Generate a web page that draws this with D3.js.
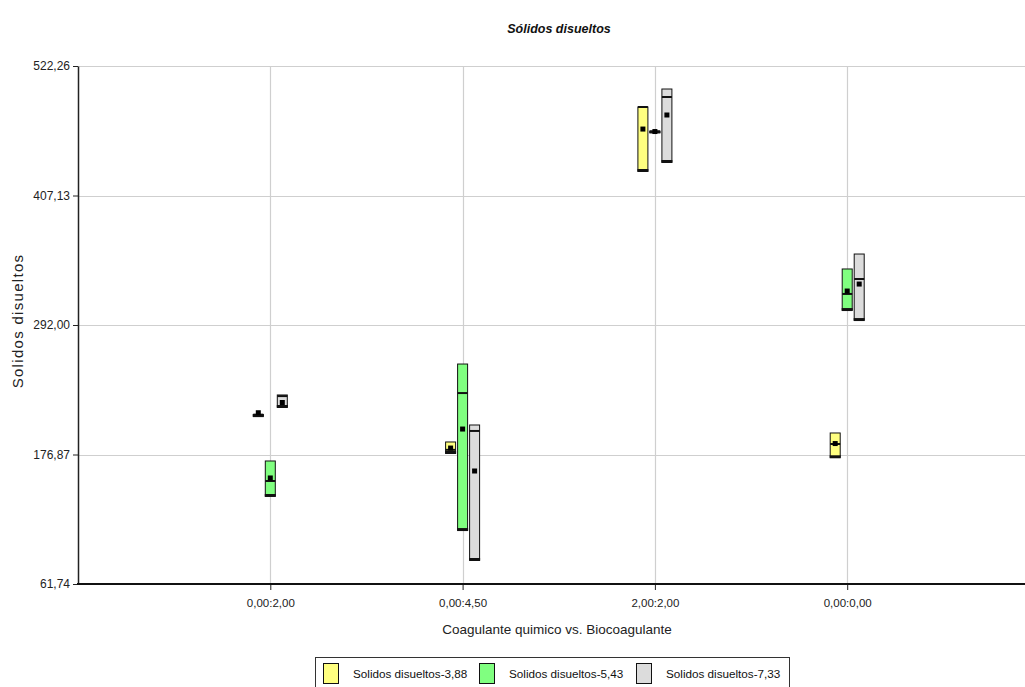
<!DOCTYPE html>
<html>
<head>
<meta charset="utf-8">
<script src="https://cdn.jsdelivr.net/npm/d3@7/dist/d3.min.js"></script>
<style>
  html, body { margin: 0; padding: 0; background: #fff; }
  svg { display: block; font-family: "Liberation Sans", Arial, sans-serif; }
</style>
</head>
<body>
<svg id="chart" width="1025" height="687"></svg>
<script>
// Treatment combinations (chemical coagulant : bio-coagulant)
const categories = ["0,00:2,00", "0,00:4,50", "2,00:2,00", "0,00:0,00"];
const series = ["Solidos disueltos-3,88", "Solidos disueltos-5,43", "Solidos disueltos-7,33"];
const seriesColors = ["#ffff80", "#80ff80", "#dcdcdc"];
const yTicks = [61.74, 176.87, 292.00, 407.13, 522.26];

// Box statistics per series, one value per category
const lower3_88  = [211.0, 178.2, 428.9, 174.4];
const median3_88 = [212.3, 181.0, 485.8, 186.2];
const upper3_88  = [212.3, 188.0, 485.8, 196.0];
const mean3_88   = [214.0, 182.6, 466.2, 186.6];

const lower5_43  = [140.0, 109.7, 463.2, 305.3];
const median5_43 = [153.3, 231.5, 464.0, 319.6];
const upper5_43  = [171.1, 257.3, 464.0, 341.8];
const mean5_43   = [156.0, 199.5, 464.0, 322.2];

const lower7_33  = [219.1,  83.1, 436.9, 296.4];
const median7_33 = [228.8, 197.8, 494.7, 332.9];
const upper7_33  = [229.8, 203.1, 501.8, 355.1];
const mean7_33   = [223.1, 162.2, 478.7, 328.4];

const statsBySeries = [
  { lower: lower3_88, median: median3_88, upper: upper3_88, mean: mean3_88 },
  { lower: lower5_43, median: median5_43, upper: upper5_43, mean: mean5_43 },
  { lower: lower7_33, median: median7_33, upper: upper7_33, mean: mean7_33 }
];

const boxes = [];
series.forEach((s, si) => {
  categories.forEach((c, ci) => {
    const st = statsBySeries[si];
    boxes.push({
      series: s, color: seriesColors[si], category: c,
      lower: st.lower[ci], median: st.median[ci], upper: st.upper[ci], mean: st.mean[ci]
    });
  });
});

const svg = d3.select("#chart");
const plotLeft = 78, plotTop = 66, plotBottom = 584, plotRight = 1025;

// Category slots: one empty slot on each side of the four treatments
const x = d3.scalePoint().domain(["", ...categories, " "]).range([plotLeft, plotLeft + 5 * 192.3]);
const xOff = d3.scalePoint().domain(series).range([-12, 12]);
const y = d3.scaleLinear().domain([61.74, 522.26]).range([plotBottom, plotTop]);
const boxW = 10;

// Grid
const grid = svg.append("g");
grid.selectAll("line.h").data(yTicks).join("line")
  .attr("x1", plotLeft).attr("x2", plotRight)
  .attr("y1", d => Math.round(y(d)) + 0.5).attr("y2", d => Math.round(y(d)) + 0.5)
  .attr("stroke", "#cfcfcf").attr("stroke-width", 1.2);
grid.selectAll("line.v").data(categories).join("line")
  .attr("x1", d => Math.round(x(d)) + 0.5).attr("x2", d => Math.round(x(d)) + 0.5)
  .attr("y1", plotTop).attr("y2", plotBottom)
  .attr("stroke", "#cfcfcf").attr("stroke-width", 1.2);

// Y axis
const yAxis = d3.axisLeft(y).tickValues(yTicks)
  .tickFormat(d => d.toFixed(2).replace(".", ","))
  .tickSize(5).tickSizeOuter(0).tickPadding(3);
const gy = svg.append("g").attr("transform", `translate(${plotLeft},0)`).call(yAxis);
gy.select(".domain").attr("stroke", "#222").attr("stroke-width", 1.5);
gy.selectAll(".tick line").attr("stroke", "#222");
gy.selectAll(".tick text").attr("font-size", "12px").attr("fill", "#222")
  .attr("font-family", "'Liberation Sans', Arial, sans-serif");

// X axis
const xAxis = d3.axisBottom(x).tickValues(categories).tickSize(6).tickSizeOuter(0).tickPadding(9);
const gx = svg.append("g").attr("transform", `translate(0,${plotBottom})`).call(xAxis);
gx.select(".domain").remove();
gx.append("line").attr("x1", plotLeft - 1).attr("x2", plotRight).attr("y1", 0).attr("y2", 0)
  .attr("stroke", "#111").attr("stroke-width", 2);
gx.selectAll(".tick line").attr("stroke", "#222");
gx.selectAll(".tick text").attr("font-size", "11.5px").attr("fill", "#222")
  .attr("font-family", "'Liberation Sans', Arial, sans-serif");

// Boxes
const gb = svg.append("g");
const bx = d => x(d.category) + xOff(d.series);
gb.selectAll("rect.box").data(boxes).join("rect")
  .attr("x", d => bx(d) - boxW / 2)
  .attr("y", d => y(d.upper))
  .attr("width", boxW)
  .attr("height", d => Math.max(1, y(d.lower) - y(d.upper)))
  .attr("fill", d => d.color)
  .attr("stroke", "#111").attr("stroke-width", 1);
// median
gb.selectAll("line.median").data(boxes).join("line")
  .attr("x1", d => bx(d) - boxW / 2).attr("x2", d => bx(d) + boxW / 2)
  .attr("y1", d => y(d.median)).attr("y2", d => y(d.median))
  .attr("stroke", "#111").attr("stroke-width", 2);
// lower whisker cap
gb.selectAll("line.low").data(boxes).join("line")
  .attr("x1", d => bx(d) - boxW / 2 - 0.5).attr("x2", d => bx(d) + boxW / 2 + 0.5)
  .attr("y1", d => y(d.lower) - 0.5).attr("y2", d => y(d.lower) - 0.5)
  .attr("stroke", "#111").attr("stroke-width", 3);
// mean marker
gb.selectAll("rect.mean").data(boxes).join("rect")
  .attr("x", d => bx(d) - 2.5).attr("y", d => y(d.mean) - 2.5)
  .attr("width", 5).attr("height", 5).attr("fill", "#000");

// Titles
svg.append("text").attr("x", 559).attr("y", 33).attr("text-anchor", "middle")
  .attr("font-size", "12.5px").attr("font-weight", "bold").attr("font-style", "italic")
  .attr("fill", "#111").text("Sólidos disueltos");
svg.append("text").attr("x", 557).attr("y", 634).attr("text-anchor", "middle")
  .attr("font-size", "13.5px").attr("fill", "#222").text("Coagulante quimico vs. Biocoagulante");
svg.append("text").attr("transform", "translate(23,321) rotate(-90)").attr("text-anchor", "middle")
  .attr("font-size", "15px").attr("letter-spacing", "1.3px").attr("fill", "#222").text("Solidos disueltos");

// Legend
const lg = svg.append("g");
lg.append("rect").attr("x", 315.5).attr("y", 657.5).attr("width", 474).attr("height", 40)
  .attr("fill", "#fff").attr("stroke", "#333").attr("stroke-width", 1);
const legendX = d3.scaleOrdinal().domain(series).range([323, 479, 636]);
const items = lg.selectAll("g.item").data(series).join("g")
  .attr("transform", d => `translate(${legendX(d)},663)`);
items.append("rect").attr("x", 0.5).attr("y", 0.5).attr("width", 15).attr("height", 20)
  .attr("fill", (d, i) => seriesColors[i]).attr("stroke", "#111");
items.append("text").attr("x", 30).attr("y", 15).attr("font-size", "11.7px").attr("fill", "#111")
  .text(d => d);
</script>
</body>
</html>
